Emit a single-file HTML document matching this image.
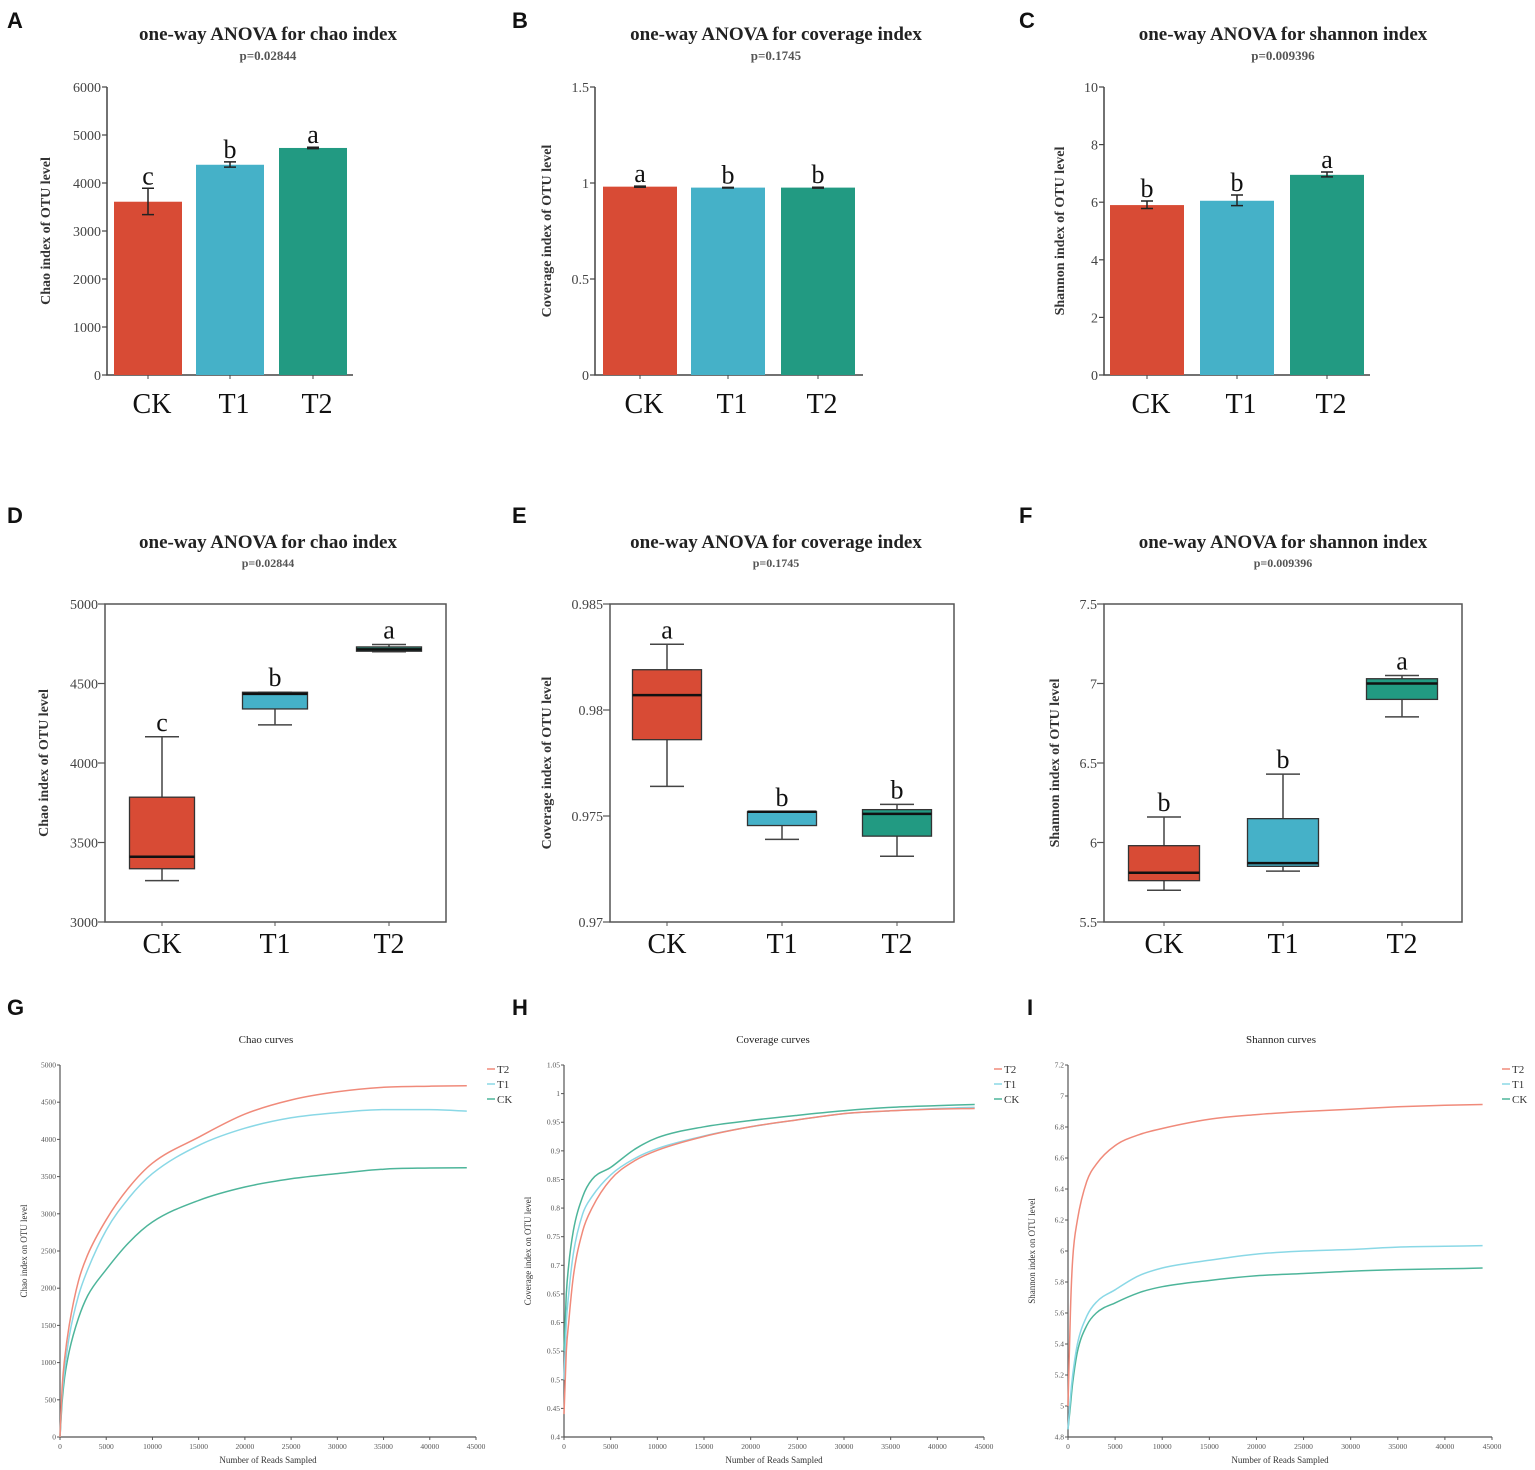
<!DOCTYPE html>
<html><head><meta charset="utf-8">
<style>
html,body{margin:0;padding:0;background:#fff;}
svg{display:block;}
.ser{font-family:"Liberation Serif",serif;}
.san{font-family:"Liberation Sans",sans-serif;}
</style></head>
<body>
<svg id="fig" width="1535" height="1470" viewBox="0 0 1535 1470" xmlns="http://www.w3.org/2000/svg"></svg>
<script>
// ---------- data ----------
const groups = ["CK","T1","T2"];
const colors = ["#d84b35","#45b1c8","#229a82"];
const chaoMean = [3610, 4380, 4730];
const chaoErrLo = [3340, 4330, 4715];
const chaoErrHi = [3890, 4440, 4745];
const chaoLetters = ["c","b","a"];
const covMean = [0.981, 0.976, 0.976];
const covErrLo = [0.978, 0.974, 0.973];
const covErrHi = [0.984, 0.977, 0.978];
const covLetters = ["a","b","b"];
const shanMean = [5.9, 6.05, 6.95];
const shanErrLo = [5.78, 5.88, 6.88];
const shanErrHi = [6.04, 6.25, 7.05];
const shanLetters = ["b","b","a"];
const chaoBoxes = [[3260,3335,3410,3785,4165],[4240,4340,4435,4445,4445],[4700,4703,4715,4730,4745]];
const covBoxes = [[0.9764,0.9786,0.9807,0.9819,0.9831],[0.9739,0.97455,0.9752,0.9752,0.9752],[0.9731,0.97405,0.9751,0.9753,0.97555]];
const shanBoxes = [[5.70,5.76,5.81,5.98,6.16],[5.82,5.85,5.87,6.15,6.43],[6.79,6.90,7.00,7.03,7.05]];
const reads = [0,250,500,1000,2000,3000,5000,7500,10000,15000,20000,25000,30000,35000,40000,44000];
const chaoT2 = [0,700,1050,1500,2100,2450,2920,3360,3680,4030,4340,4530,4640,4700,4715,4720];
const chaoT1 = [0,600,900,1350,1900,2250,2780,3220,3540,3920,4150,4290,4360,4400,4400,4380];
const chaoCK = [0,500,800,1150,1600,1900,2250,2620,2890,3180,3360,3470,3540,3600,3615,3620];
const covT2 = [0.44,0.55,0.6,0.68,0.76,0.80,0.85,0.882,0.901,0.925,0.942,0.954,0.965,0.970,0.973,0.974];
const covT1 = [0.50,0.60,0.65,0.72,0.79,0.82,0.858,0.886,0.904,0.926,0.942,0.954,0.965,0.970,0.974,0.976];
const covCK = [0.55,0.65,0.70,0.76,0.82,0.85,0.871,0.902,0.923,0.942,0.953,0.962,0.970,0.976,0.979,0.981];
const shanT2 = [5.0,5.6,5.95,6.2,6.45,6.56,6.68,6.75,6.79,6.85,6.88,6.90,6.915,6.93,6.94,6.945];
const shanT1 = [4.85,5.05,5.2,5.4,5.58,5.67,5.75,5.84,5.89,5.94,5.98,6.0,6.01,6.025,6.03,6.035];
const shanCK = [4.85,5.0,5.15,5.35,5.52,5.6,5.665,5.73,5.77,5.81,5.84,5.855,5.87,5.88,5.885,5.89];
const readTicks = [0,5000,10000,15000,20000,25000,30000,35000,40000,45000];

// ---------- helpers ----------
const NS="http://www.w3.org/2000/svg";
const svg=document.getElementById('fig');
function mk(tag,attrs,parent,text){
  const e=document.createElementNS(NS,tag);
  for(const k in attrs) e.setAttribute(k,attrs[k]);
  if(text!==undefined) e.textContent=text;
  (parent||svg).appendChild(e);
  return e;
}
function lin(d0,d1,r0,r1){return v=>r0+(v-d0)*(r1-r0)/(d1-d0);}
function fmt(v){return String(v);}
function smooth(pts){
  // monotone cubic (Fritsch-Carlson) in pixel space
  const n=pts.length; const dx=[],dy=[],m=[],t=[];
  for(let i=0;i<n-1;i++){dx[i]=pts[i+1][0]-pts[i][0];dy[i]=pts[i+1][1]-pts[i][1];m[i]=dy[i]/dx[i];}
  t[0]=m[0];t[n-1]=m[n-2];
  for(let i=1;i<n-1;i++){t[i]=(m[i-1]*m[i]<=0)?0:(m[i-1]+m[i])/2;}
  for(let i=0;i<n-1;i++){
    if(m[i]===0){t[i]=0;t[i+1]=0;continue;}
    const a=t[i]/m[i],b=t[i+1]/m[i],s=a*a+b*b;
    if(s>9){const k=3/Math.sqrt(s);t[i]=k*a*m[i];t[i+1]=k*b*m[i];}
  }
  let d=`M${pts[0][0].toFixed(1)} ${pts[0][1].toFixed(1)}`;
  for(let i=0;i<n-1;i++){
    const h=dx[i]/3;
    d+=` C${(pts[i][0]+h).toFixed(1)} ${(pts[i][1]+t[i]*h).toFixed(1)} ${(pts[i+1][0]-h).toFixed(1)} ${(pts[i+1][1]-t[i+1]*h).toFixed(1)} ${pts[i+1][0].toFixed(1)} ${pts[i+1][1].toFixed(1)}`;
  }
  return d;
}

function header(g,letter,lx,ly,title,cx,ty,p,py,tsize,psize,bold){
  const l=mk('text',{x:lx,y:ly,'class':'san','font-size':22,'font-weight':'bold',fill:'#111'},g,letter);
  
  
  const t=mk('text',{x:cx,y:ty,'class':'ser','font-size':tsize,'font-weight':bold?'bold':'normal','text-anchor':'middle',fill:'#222'},g,title);
  
  
  if(p){
    const pp=mk('text',{x:cx,y:py,'class':'ser','font-size':psize,'font-weight':'bold','text-anchor':'middle',fill:'#555'},g,p);
    
    
  }
}
function ylabel(g,x,y,text,size,bold){
  const t=mk('text',{x:x,y:y,'class':'ser','font-size':size,'font-weight':bold?'bold':'normal','text-anchor':'middle',fill:'#333',transform:`rotate(-90 ${x} ${y})`},g,text);
  
  
}

function barPanel(o){
  const g=mk('g',{},svg);
  
  
  header(g,o.letter,o.lx,28,o.title,o.cx,40,o.p,60,19,13,true);
  const y=lin(o.ymin,o.ymax,375,87);
  const ax=mk('path',{d:`M${o.ax} 87 V375 H${o.xr}`,stroke:'#444','stroke-width':1.5,fill:'none'},g);
  
  
  o.ticks.forEach(v=>{
    mk('line',{x1:o.ax-5,x2:o.ax,y1:y(v),y2:y(v),stroke:'#444','stroke-width':1.2},g);
    const t=mk('text',{x:o.ax-6,y:y(v)+5,'class':'ser','font-size':14,'text-anchor':'end',fill:'#444'},g,fmt(v));
    
    
  });
  ylabel(g,o.ylx,231,o.ylab,14,true);
  groups.forEach((gr,i)=>{
    const x0=o.bx[i], w=o.bw, c=x0+w/2;
    const b=mk('rect',{x:x0,y:y(o.mean[i]),width:w,height:375-y(o.mean[i]),fill:colors[i]},g);
    
    
    const e=mk('path',{d:`M${c} ${y(o.lo[i])} V${y(o.hi[i])} M${c-6} ${y(o.lo[i])} H${c+6} M${c-6} ${y(o.hi[i])} H${c+6}`,stroke:'#222','stroke-width':1.5,fill:'none'},g);
    
    
    const L=mk('text',{x:c,y:y(o.hi[i])-4,'class':'ser','font-size':26,'text-anchor':'middle',fill:'#111'},g,o.letters[i]);
    
    
    mk('line',{x1:c,x2:c,y1:375,y2:379,stroke:'#444'},g);
    const cl=mk('text',{x:c+4,y:413,'class':'ser','font-size':28,'text-anchor':'middle',fill:'#111'},g,gr);
    
    
  });
}

function boxPanel(o){
  const g=mk('g',{},svg);
  
  
  header(g,o.letter,o.lx,523,o.title,o.cx,548,o.p,567,19,12,true);
  const top=604,bot=922;
  const y=lin(o.ymin,o.ymax,bot,top);
  const fr=mk('rect',{x:o.fl,y:top,width:o.fr-o.fl,height:bot-top,fill:'none',stroke:'#555','stroke-width':1.5},g);
  
  
  o.ticks.forEach(v=>{
    mk('line',{x1:o.fl-7,x2:o.fl,y1:y(v),y2:y(v),stroke:'#555','stroke-width':1.2},g);
    const t=mk('text',{x:o.fl-7,y:y(v)+5,'class':'ser','font-size':14,'text-anchor':'end',fill:'#444'},g,fmt(v));
    
    
  });
  ylabel(g,o.ylx,763,o.ylab,14,true);
  groups.forEach((gr,i)=>{
    const c=o.cx0[i], w=o.bw, b=o.data[i];
    const wk=mk('path',{d:`M${c} ${y(b[0])} V${y(b[1])} M${c} ${y(b[3])} V${y(b[4])} M${c-17} ${y(b[0])} H${c+17} M${c-17} ${y(b[4])} H${c+17}`,stroke:'#444','stroke-width':1.5,fill:'none'},g);
    
    
    const r=mk('rect',{x:c-w/2,y:y(b[3]),width:w,height:Math.max(1,y(b[1])-y(b[3])),fill:colors[i],stroke:'#333','stroke-width':1.3},g);
    
    
    const m=mk('line',{x1:c-w/2,x2:c+w/2,y1:y(b[2]),y2:y(b[2]),stroke:'#111','stroke-width':2.5},g);
    
    
    const L=mk('text',{x:c,y:y(b[4])-6,'class':'ser','font-size':26,'text-anchor':'middle',fill:'#111'},g,o.letters[i]);
    
    
    mk('line',{x1:c,x2:c,y1:bot,y2:bot+4,stroke:'#555'},g);
    const cl=mk('text',{x:c,y:953,'class':'ser','font-size':28,'text-anchor':'middle',fill:'#111'},g,gr);
    
    
  });
}

function curvePanel(o){
  const g=mk('g',{},svg);
  
  
  header(g,o.letter,o.lx,1015,o.title,o.cx,1043,null,0,11,0,false);
  const top=1065,bot=1437;
  const x=lin(0,45000,o.x0,o.x1), y=lin(o.ymin,o.ymax,bot,top);
  const ax=mk('path',{d:`M${o.x0} ${top} V${bot} H${o.x1}`,stroke:'#555','stroke-width':1.2,fill:'none'},g);
  
  
  o.ticks.forEach(v=>{
    mk('line',{x1:o.x0-3,x2:o.x0,y1:y(v),y2:y(v),stroke:'#555'},g);
    const t=mk('text',{x:o.x0-4,y:y(v)+2.5,'class':'ser','font-size':7.5,'text-anchor':'end',fill:'#555'},g,fmt(v));
    
    
  });
  readTicks.forEach(v=>{
    mk('line',{x1:x(v),x2:x(v),y1:bot,y2:bot+3,stroke:'#555'},g);
    const t=mk('text',{x:x(v),y:bot+12,'class':'ser','font-size':7.5,'text-anchor':'middle',fill:'#555'},g,fmt(v));
    
    
  });
  const xt=mk('text',{x:(o.x0+o.x1)/2,y:bot+26,'class':'ser','font-size':9,'text-anchor':'middle',fill:'#333'},g,'Number of Reads Sampled');
  
  
  ylabel(g,o.x0-33,(top+bot)/2,o.ylab,9,false);
  const series=[["T2",o.t2,"#f08a7a"],["T1",o.t1,"#8ad8e6"],["CK",o.ck,"#4db59a"]];
  series.slice().reverse().forEach(s=>{
    const pts=reads.map((r,i)=>[x(r),y(s[1][i])]);
    const p=mk('path',{d:smooth(pts),stroke:s[2],'stroke-width':1.5,fill:'none','stroke-linejoin':'round'},g);
    
    
  });
  series.forEach((s,i)=>{
    const ly=1069+i*15;
    mk('line',{x1:o.lgx,x2:o.lgx+8,y1:ly,y2:ly,stroke:s[2],'stroke-width':1.5},g);
    const t=mk('text',{x:o.lgx+10,y:ly+4,'class':'ser','font-size':11,fill:'#333'},g,s[0]);
    
    
  });
}

barPanel({letter:'A',lx:7,title:'one-way ANOVA for chao index',cx:268,p:'p=0.02844',ax:107,xr:353,ymin:0,ymax:6000,
  ticks:[0,1000,2000,3000,4000,5000,6000],ylx:50,ylab:'Chao index of OTU level',bx:[114,196,279],bw:68,
  mean:chaoMean,lo:chaoErrLo,hi:chaoErrHi,letters:chaoLetters});
barPanel({letter:'B',lx:512,title:'one-way ANOVA for coverage index',cx:776,p:'p=0.1745',ax:595,xr:863,ymin:0,ymax:1.5,
  ticks:[0,0.5,1,1.5],ylx:551,ylab:'Coverage index of OTU level',bx:[603,691,781],bw:74,
  mean:covMean,lo:covErrLo,hi:covErrHi,letters:covLetters});
barPanel({letter:'C',lx:1019,title:'one-way ANOVA for shannon index',cx:1283,p:'p=0.009396',ax:1104,xr:1370,ymin:0,ymax:10,
  ticks:[0,2,4,6,8,10],ylx:1064,ylab:'Shannon index of OTU level',bx:[1110,1200,1290],bw:74,
  mean:shanMean,lo:shanErrLo,hi:shanErrHi,letters:shanLetters});

boxPanel({letter:'D',lx:7,title:'one-way ANOVA for chao index',cx:268,p:'p=0.02844',fl:105,fr:446,ymin:3000,ymax:5000,
  ticks:[3000,3500,4000,4500,5000],ylx:48,ylab:'Chao index of OTU level',cx0:[162,275,389],bw:65,data:chaoBoxes,letters:chaoLetters});
boxPanel({letter:'E',lx:512,title:'one-way ANOVA for coverage index',cx:776,p:'p=0.1745',fl:610,fr:954,ymin:0.97,ymax:0.985,
  ticks:[0.97,0.975,0.98,0.985],ylx:551,ylab:'Coverage index of OTU level',cx0:[667,782,897],bw:69,data:covBoxes,letters:covLetters});
boxPanel({letter:'F',lx:1019,title:'one-way ANOVA for shannon index',cx:1283,p:'p=0.009396',fl:1104,fr:1462,ymin:5.5,ymax:7.5,
  ticks:[5.5,6,6.5,7,7.5],ylx:1059,ylab:'Shannon index of OTU level',cx0:[1164,1283,1402],bw:71,data:shanBoxes,letters:shanLetters});

curvePanel({letter:'G',lx:7,title:'Chao curves',cx:266,x0:60,x1:476,ymin:0,ymax:5000,
  ticks:[0,500,1000,1500,2000,2500,3000,3500,4000,4500,5000],ylab:'Chao index on OTU level',t2:chaoT2,t1:chaoT1,ck:chaoCK,lgx:487});
curvePanel({letter:'H',lx:512,title:'Coverage curves',cx:773,x0:564,x1:984,ymin:0.4,ymax:1.05,
  ticks:[0.4,0.45,0.5,0.55,0.6,0.65,0.7,0.75,0.8,0.85,0.9,0.95,1,1.05],ylab:'Coverage index on OTU level',t2:covT2,t1:covT1,ck:covCK,lgx:994});
curvePanel({letter:'I',lx:1027,title:'Shannon curves',cx:1281,x0:1068,x1:1492,ymin:4.8,ymax:7.2,
  ticks:[4.8,5,5.2,5.4,5.6,5.8,6,6.2,6.4,6.6,6.8,7,7.2],ylab:'Shannon index on OTU level',t2:shanT2,t1:shanT1,ck:shanCK,lgx:1502});
</script>
</body></html>
